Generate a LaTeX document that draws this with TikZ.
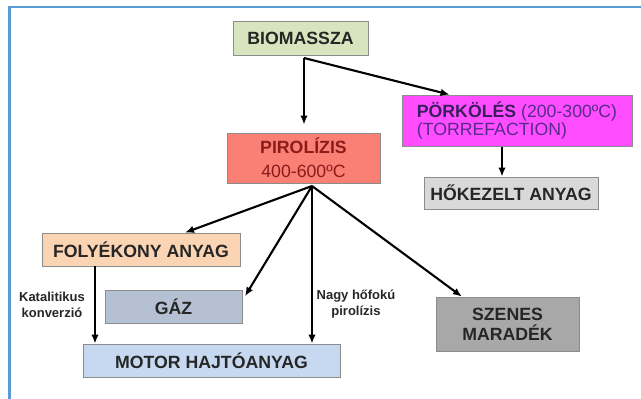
\documentclass[tikz,border=0pt]{standalone}
\usepackage{fontspec}
\setmainfont{Liberation Sans}
\usepackage{xcolor}
\usepackage{tikz}
\usetikzlibrary{arrows.meta}

\definecolor{framebl}{HTML}{5B9BD5}
\definecolor{boxedge}{HTML}{8C8C8C}
\definecolor{biofill}{HTML}{D7E4BD}
\definecolor{porkfill}{HTML}{FF4DFF}
\definecolor{porktxt}{HTML}{5A2A8A}
\definecolor{porkdark}{HTML}{3A1F5E}
\definecolor{pirofill}{HTML}{FA7F74}
\definecolor{pirotxt}{HTML}{8B1C1C}
\definecolor{hokfill}{HTML}{D9D9D9}
\definecolor{folyfill}{HTML}{FBD4B4}
\definecolor{gazfill}{HTML}{B5C1D3}
\definecolor{motorfill}{HTML}{C6D9F0}
\definecolor{szenfill}{HTML}{A8A8A8}
\definecolor{darktxt}{HTML}{262626}

\begin{document}
\begin{tikzpicture}[x=1pt, y=-1pt,
            box/.style={draw=boxedge, line width=0.8pt, rectangle, inner sep=0pt, align=center, text=darktxt, font=\fontsize{17.7}{20}\selectfont\bfseries},
            note/.style={align=center, inner sep=0pt, text=darktxt, font=\fontsize{13}{16}\selectfont\bfseries},
            conn/.style={-{Latex[length=9pt,width=7.5pt]}, line width=2.1pt}
            ]
            \useasboundingbox (0,0) rectangle (641,399);
            \draw[framebl, line width=2.4pt] (641,7) -- (9.5,7) -- (9.5,399);

            % Nodes with manual coordinates
            \node[box, fill=biofill, minimum width=135, minimum height=34] (bio) at (300.5,38) {BIOMASSZA};
            \node[box, fill=porkfill, text=porktxt, align=left, font=\fontsize{17.7}{18}\selectfont, minimum width=230, minimum height=51] (pork) at (517,120.5)
                {\textcolor{porkdark}{\textbf{PÖRKÖLÉS}} (200-300ºC)\\(TORREFACTION)};
            \node[box, fill=pirofill, text=pirotxt, font=\fontsize{17.7}{24}\selectfont, minimum width=153, minimum height=50] (piro) at (303.5,158)
                {\textbf{PIROLÍZIS}\\400-600ºC};
            \node[box, fill=hokfill, minimum width=174, minimum height=32] (hok) at (511,193) {HŐKEZELT ANYAG};
            \node[box, fill=folyfill, minimum width=198, minimum height=33] (foly) at (141,249.5) {FOLYÉKONY ANYAG};
            \node[box, fill=gazfill, minimum width=137, minimum height=33] (gaz) at (173.5,306.5) {GÁZ};
            \node[box, fill=motorfill, minimum width=257, minimum height=33] (motor) at (211.5,360.5) {MOTOR HAJTÓANYAG};
            \node[box, fill=szenfill, minimum width=143, minimum height=54] (szen) at (507.5,324) {SZENES\\MARADÉK};

            \node[note] (kat) at (52,305) {Katalitikus\\konverzió};
            \node[note] (nagy) at (356,304) {Nagy hőfokú\\pirolízis};

            % Branch points
            \coordinate (bj) at (304,58);
            \coordinate (pj) at (312,186);
            \coordinate (pb) at (502,146.5);
            \coordinate (fb) at (95,266);

            % Arrows
            \draw[conn, shorten >=8pt] (bj) -- (bj |- piro.north);
            \draw[conn] (bj) -- (pork.159);
            \draw[conn] (pb) -- (pb |- hok.north);
            \draw[conn] (pj) -- (foly.21);
            \draw[conn, shorten >=5pt] (pj) -- (gaz.5);
            \draw[conn] (pj) -- (pj |- motor.north);
            \draw[conn] (pj) -- (szen.149);
            \draw[conn] (fb) -- (fb |- motor.north);
        \end{tikzpicture}
\end{document}
